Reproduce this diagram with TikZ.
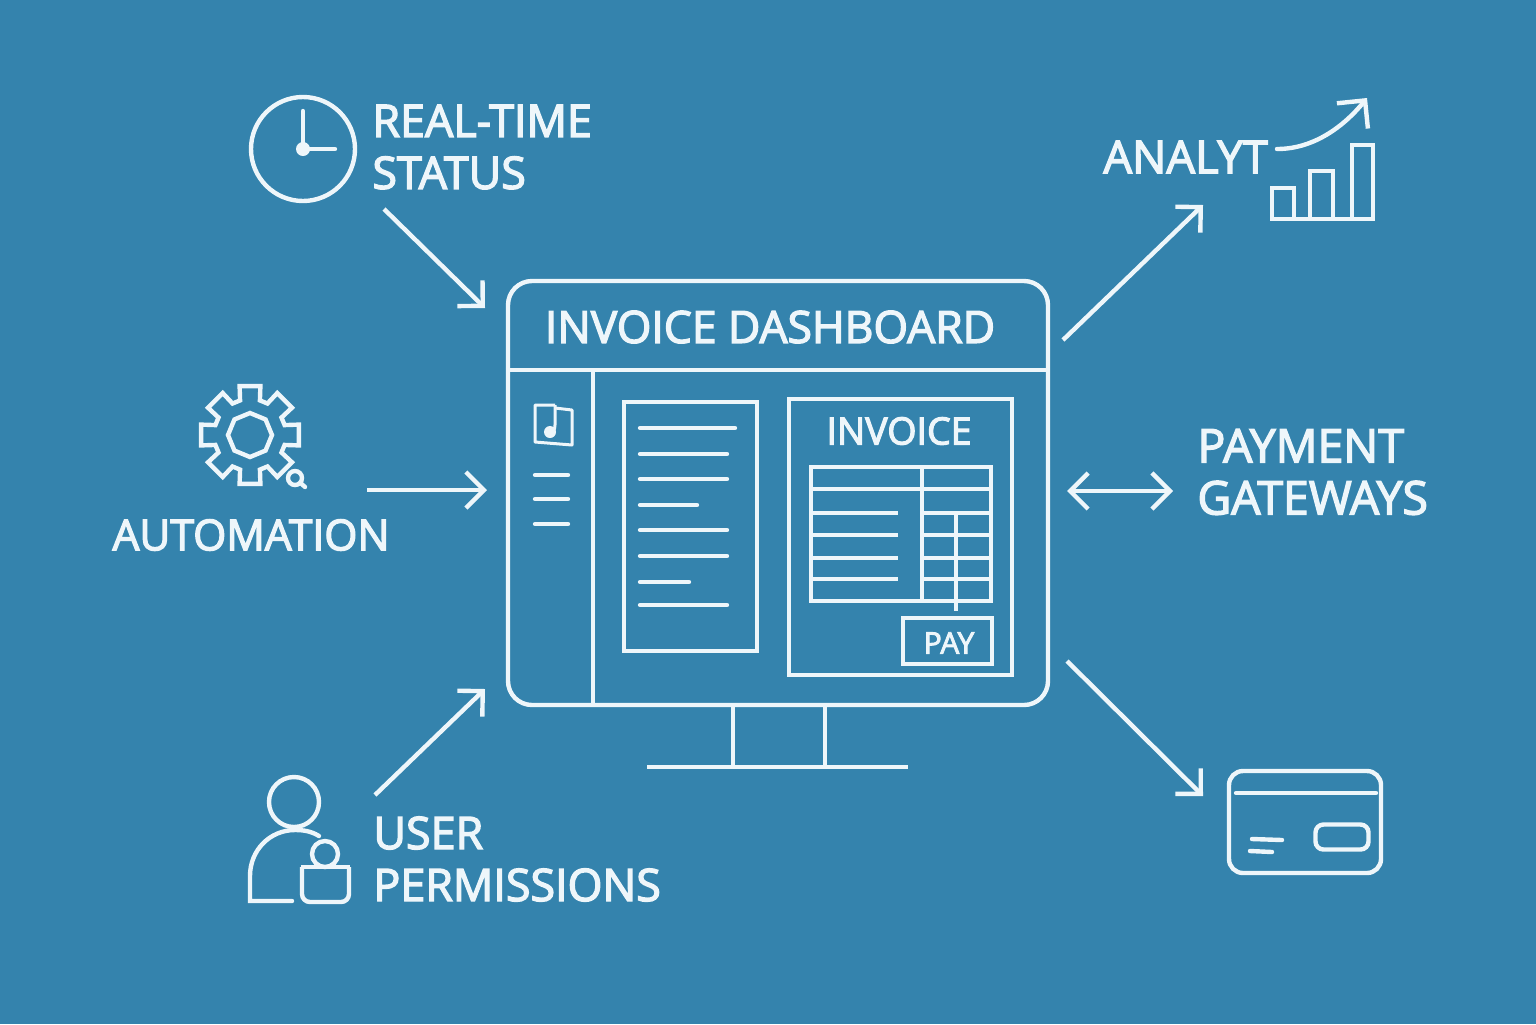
\documentclass[tikz,border=0pt]{standalone}
\usepackage{fontspec}
\setmainfont{Open Sans}[FakeBold=3]
\usetikzlibrary{arrows.meta, positioning, shapes}
\definecolor{mybg}{HTML}{3483AD}
\definecolor{myink}{HTML}{EEF6FA}

\begin{document}
\begin{tikzpicture}[
    x=0.5pt, y=-0.5pt,
    myline/.style={draw=myink, line width=2.2pt},
    mybox/.style={myline, rectangle, inner sep=0pt},
    mylabel/.style={text=myink, inner sep=0pt, font=\fontsize{22.4}{26}\selectfont},
    myarrow/.style={myline, -{Straight Barb[length=9pt, width=18pt]}}
]
\useasboundingbox (0,0) rectangle (1536,1024);
\fill[mybg] (0,0) rectangle (1536,1024);

% Dashboard
\node[mybox, rounded corners=12pt, minimum width=270pt, minimum height=212pt] (Dashboard) at (778,493) {};
\draw[myline] (Dashboard.west |- 0,370) -- (Dashboard.east |- 0,370);
\draw[myline] (593,370) -- (593,705);
\node[mylabel, font=\fontsize{22.2}{26}\selectfont] (Title) at (770,327) {INVOICE DASHBOARD};
\draw[myline] (733,705) -- (733,767) (825,705) -- (825,767);
\draw[myline] (647,767) -- (908,767);

% Sidebar
\draw[myline, line width=1.5pt, line join=round] (555,405) -- (535,405) -- (535,442) -- (572,445) -- (572,410) -- (555,408);
\draw[myline, line width=1.5pt] (555,405) -- (555,425) .. controls (555,430) and (553,433) .. (549,434);
\fill[myink] (550,432) circle (3pt);
\foreach \y in {475,499,524}
    \draw[myline, line cap=round] (535,\y) -- (568,\y);

% Document list
\node[mybox, minimum width=66.5pt, minimum height=124.5pt] (Document) at (690.5,526.5) {};
\foreach \y/\xend in {428/735,454/727,479/727,505/697,530/727,556/727,582/689,605/727}
    \draw[myline, line cap=round] (640,\y) -- (\xend,\y);

% Invoice panel
\node[mybox, minimum width=111.5pt, minimum height=138pt] (Invoice) at (900.5,537) {};
\node[mylabel, font=\fontsize{18.8}{20}\selectfont] (InvoiceTitle) at (899,431) {INVOICE};
\node[mybox, minimum width=90pt, minimum height=67pt] (Table) at (901,534) {};
\draw[myline] (922,467) -- (922,601);
\draw[myline] (956,513) -- (956,611);
\draw[myline] (811,489) -- (991,489);
\foreach \y in {513,535,558,579} {
    \draw[myline] (811,\y) -- (898,\y);
    \draw[myline] (922,\y) -- (991,\y);
}
\node[mybox, minimum width=44.5pt, minimum height=23pt] (Pay) at (947.5,641) {};
\node[mylabel, font=\fontsize{15}{16}\selectfont] (PayText) at (949,643) {PAY};

% Real-time status
\node[myline, circle, minimum size=52pt, inner sep=0pt] (Clock) at (303,149) {};
\fill[myink] (Clock.center) circle (3.5pt);
\draw[myline, line cap=round] (Clock.center) -- (303,111);
\draw[myline, line cap=round] (Clock.center) -- (335,149);
\node[mylabel, align=left, anchor=west] (Status) at (372,147) {REAL-TIME\\STATUS};

% Automation
\coordinate (GearCenter) at (250,435);
\draw[myline, shift={(GearCenter)}] (-16:36) \foreach \a in {0,45,...,315} { -- (\a-16:36) -- (\a-12:50) -- (\a+12:50) -- (\a+16:36) } -- cycle;
\draw[myline, shift={(GearCenter)}] (0:22) \foreach \a in {45,90,...,315} { -- (\a:22) } -- cycle;
\node[myline, circle, fill=mybg, minimum size=7pt, inner sep=0pt] (Lens) at (295,478) {};
\coordinate (LensEnd) at (305,487);
\draw[myline, line cap=round] (Lens) -- (LensEnd);
\node[mylabel, font=\fontsize{21.3}{26}\selectfont] (Automation) at (251,535) {AUTOMATION};

% User permissions
\node[myline, circle, minimum size=25pt, inner sep=0pt] (UserHead) at (294,802) {};
\draw[myline, line cap=round] (319,836) .. controls (311,831) and (303,830) .. (295,830) .. controls (270,830) and (250,850) .. (250,876) -- (250,901) -- (292,901);
\node[myline, circle, minimum size=13pt, inner sep=0pt] (LockHead) at (325,854) {};
\draw[myline, rounded corners=4pt] (302,867) -- (302,902) -- (349,902) -- (349,867);
\draw[myline] (301,867) -- (350,867);
\node[mylabel, align=left, anchor=west] (Permissions) at (373,859) {USER\\PERMISSIONS};

% Analytics
\node[mylabel, anchor=west, font=\fontsize{22.7}{26}\selectfont] (Analyt) at (1103,157) {ANALYT};
\draw[myline] (1272,219) -- (1272,188) -- (1294,188) -- (1294,219);
\draw[myline] (1310,219) -- (1310,171) -- (1333,171) -- (1333,219);
\draw[myline] (1352,219) -- (1352,145) -- (1373,145) -- (1373,219);
\draw[myline] (1270,219) -- (1375,219);
\coordinate (TrendStart) at (1277,149);
\coordinate (TrendEnd) at (1367,98);
\draw[myline, -{Straight Barb[length=10pt, width=20pt]}, line cap=round] (TrendStart) .. controls (1315,149) and (1345,125) .. (TrendEnd);

% Payment gateways
\node[mylabel, align=left, anchor=west, font=\fontsize{23.2}{26}\selectfont] (Gateways) at (1197,472) {PAYMENT\\GATEWAYS};

% Card
\node[mybox, rounded corners=7pt, minimum width=76pt, minimum height=51pt] (Card) at (1305,822) {};
\draw[myline, line cap=round] (1236,793) -- (1376,793);
\node[mybox, rounded corners=4pt, minimum width=26.5pt, minimum height=12.5pt] (Chip) at (1342,837) {};
\draw[myline, line cap=round] (1252,839) -- (1282,840);
\draw[myline, line cap=round] (1250,851) -- (1272,852);

% Paths
\coordinate (StatusOut) at (384,209);
\coordinate (StatusIn) at (485,308);
\coordinate (AutoOut) at (367,490);
\coordinate (AutoIn) at (487,490);
\coordinate (UserOut) at (375,795);
\coordinate (UserIn) at (485,689);
\coordinate (AnalyticsOut) at (1063,340);
\coordinate (AnalyticsIn) at (1203,205);
\coordinate (GatewayLeft) at (1067,491);
\coordinate (GatewayRight) at (1173,491);
\coordinate (CardOut) at (1067,661);
\coordinate (CardIn) at (1203,796);
\draw[myarrow] (StatusOut) -- (StatusIn);
\draw[myarrow] (AutoOut) -- (AutoIn);
\draw[myarrow] (UserOut) -- (UserIn);
\draw[myarrow] (AnalyticsOut) -- (AnalyticsIn);
\draw[myline, {Straight Barb[length=9pt, width=18pt]}-{Straight Barb[length=9pt, width=18pt]}] (GatewayLeft) -- (GatewayRight);
\draw[myarrow] (CardOut) -- (CardIn);

\end{tikzpicture}
\end{document}
